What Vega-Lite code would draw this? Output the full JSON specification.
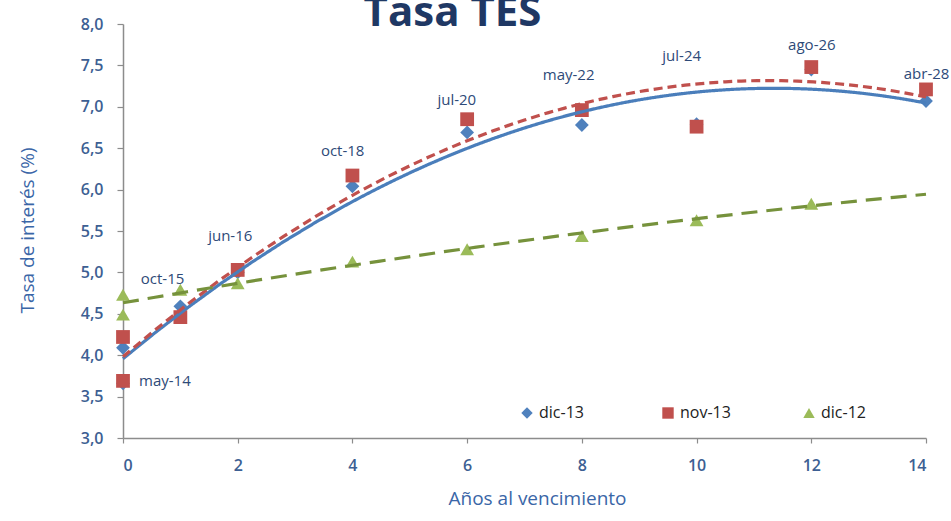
{
  "$schema": "https://vega.github.io/schema/vega-lite/v6.json",
  "width": 803,
  "height": 414,
  "autosize": {"type": "none"},
  "padding": {"left": 123, "top": 24, "right": 25, "bottom": 83},
  "background": "white",
  "title": {"text": "Tasa TES", "fontSize": 42, "font": "Open Sans", "fontWeight": "bold", "color": "#1F3864", "anchor": "middle", "frame": "group", "dx": -72, "dy": 43, "offset": -9, "baseline": "alphabetic"},
  "config": {
    "view": {"stroke": null},
    "axis": {
      "grid": false,
      "domainColor": "#8C8C8C",
      "domainWidth": 1.5,
      "tickColor": "#8C8C8C",
      "tickWidth": 1.2,
      "labelFont": "Open Sans",
      "labelFontWeight": 600,
      "labelFontSize": 16,
      "labelColor": "#3D5F93",
      "titleFont": "Open Sans",
      "titleFontWeight": "normal",
      "titleFontSize": 19,
      "titleColor": "#3A66A7"
    },
    "legend": {
      "orient": "none",
      "legendX": 396,
      "legendY": 381,
      "direction": "horizontal",
      "columns": 3,
      "padding": 0,
      "gridAlign": "all",
      "columnPadding": 70,
      "labelOffset": 4,
      "labelFont": "Open Sans",
      "labelFontSize": 16,
      "labelColor": "#222222",
      "symbolSize": 130,
      "symbolStrokeWidth": 0
    }
  },
  "datasets": {
    "puntos": [
      {"serie": "dic-13", "plazo": 0, "tasa": 4.09},
      {"serie": "dic-13", "plazo": 0, "tasa": 3.66},
      {"serie": "dic-13", "plazo": 1, "tasa": 4.59},
      {"serie": "dic-13", "plazo": 2, "tasa": 5.0},
      {"serie": "dic-13", "plazo": 4, "tasa": 6.04},
      {"serie": "dic-13", "plazo": 6, "tasa": 6.69},
      {"serie": "dic-13", "plazo": 8, "tasa": 6.78},
      {"serie": "dic-13", "plazo": 10, "tasa": 6.79},
      {"serie": "dic-13", "plazo": 12, "tasa": 7.45},
      {"serie": "dic-13", "plazo": 14, "tasa": 7.07},
      {"serie": "nov-13", "plazo": 0, "tasa": 4.22},
      {"serie": "nov-13", "plazo": 0, "tasa": 3.69},
      {"serie": "nov-13", "plazo": 1, "tasa": 4.46},
      {"serie": "nov-13", "plazo": 2, "tasa": 5.03},
      {"serie": "nov-13", "plazo": 4, "tasa": 6.17},
      {"serie": "nov-13", "plazo": 6, "tasa": 6.85},
      {"serie": "nov-13", "plazo": 8, "tasa": 6.96},
      {"serie": "nov-13", "plazo": 10, "tasa": 6.76},
      {"serie": "nov-13", "plazo": 12, "tasa": 7.48},
      {"serie": "nov-13", "plazo": 14, "tasa": 7.21},
      {"serie": "dic-12", "plazo": 0, "tasa": 4.73},
      {"serie": "dic-12", "plazo": 0, "tasa": 4.49},
      {"serie": "dic-12", "plazo": 1, "tasa": 4.79},
      {"serie": "dic-12", "plazo": 2, "tasa": 4.87},
      {"serie": "dic-12", "plazo": 4, "tasa": 5.13},
      {"serie": "dic-12", "plazo": 6, "tasa": 5.28},
      {"serie": "dic-12", "plazo": 8, "tasa": 5.44},
      {"serie": "dic-12", "plazo": 10, "tasa": 5.63},
      {"serie": "dic-12", "plazo": 12, "tasa": 5.83}
    ],
    "etiquetas": [
      {"etiqueta": "may-14", "plazo": 0.73, "tasa": 3.69},
      {"etiqueta": "oct-15", "plazo": 0.69, "tasa": 4.92},
      {"etiqueta": "jun-16", "plazo": 1.87, "tasa": 5.44},
      {"etiqueta": "oct-18", "plazo": 3.83, "tasa": 6.47},
      {"etiqueta": "jul-20", "plazo": 5.82, "tasa": 7.08},
      {"etiqueta": "may-22", "plazo": 7.77, "tasa": 7.38},
      {"etiqueta": "jul-24", "plazo": 9.74, "tasa": 7.61},
      {"etiqueta": "ago-26", "plazo": 12.01, "tasa": 7.75},
      {"etiqueta": "abr-28", "plazo": 14.01, "tasa": 7.4}
    ]
  },
  "layer": [
    {
      "data": {"name": "puntos"},
      "mark": {"type": "point", "filled": true, "opacity": 1, "size": 190, "clip": false},
      "encoding": {
        "x": {"field": "plazo", "type": "quantitative", "scale": {"domain": [0, 14], "nice": false, "zero": false},
          "axis": {"values": [0, 2, 4, 6, 8, 10, 12, 14], "format": "d", "tickSize": 5, "labelPadding": 14, "title": "Años al vencimiento", "titleX": 414, "titleY": 60, "titleBaseline": "middle"}},
        "y": {"field": "tasa", "type": "quantitative", "scale": {"domain": [3, 8], "nice": false, "zero": false},
          "axis": {"values": [3, 3.5, 4, 4.5, 5, 5.5, 6, 6.5, 7, 7.5, 8], "labelExpr": "replace(format(datum.value,'.1f'),'.',',')", "tickSize": 6, "labelPadding": 14, "title": "Tasa de interés (%)", "titleX": -96, "titleY": 206, "titleBaseline": "middle"}},
        "color": {"field": "serie", "type": "nominal", "scale": {"domain": ["dic-13", "nov-13", "dic-12"], "range": ["#4F81BD", "#C0504D", "#9BBB59"]}, "legend": {"title": null}},
        "shape": {"field": "serie", "type": "nominal", "scale": {"domain": ["dic-13", "nov-13", "dic-12"], "range": ["diamond", "square", "triangle-up"]}, "legend": {"title": null}}
      }
    },
    {
      "data": {"name": "puntos"},
      "transform": [{"regression": "tasa", "on": "plazo", "groupby": ["serie"], "method": "poly", "order": 2, "extent": [0, 14]}],
      "mark": {"type": "line", "strokeWidth": 3.2, "clip": false},
      "encoding": {
        "x": {"field": "plazo", "type": "quantitative"},
        "y": {"field": "tasa", "type": "quantitative"},
        "stroke": {"field": "serie", "type": "nominal", "scale": {"domain": ["dic-13", "nov-13", "dic-12"], "range": ["#4A7EBB", "#C0504D", "#76923C"]}, "legend": null},
        "strokeDash": {"field": "serie", "type": "nominal", "scale": {"domain": ["dic-13", "nov-13", "dic-12"], "range": [[1, 0], [9, 5], [16, 9]]}, "legend": null}
      }
    },
    {
      "data": {"name": "etiquetas"},
      "mark": {"type": "text", "font": "Open Sans", "fontSize": 15, "color": "#2E4A78", "align": "center", "baseline": "middle", "clip": false},
      "encoding": {
        "x": {"field": "plazo", "type": "quantitative"},
        "y": {"field": "tasa", "type": "quantitative"},
        "text": {"field": "etiqueta", "type": "nominal"}
      }
    }
  ]
}
